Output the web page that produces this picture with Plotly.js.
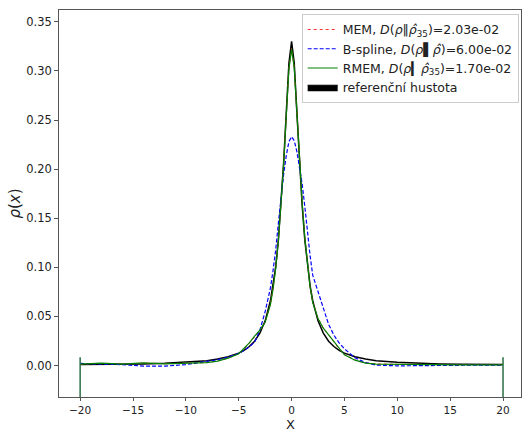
<!DOCTYPE html>
<html>
<head>
<meta charset="utf-8">
<script src="https://cdn.plot.ly/plotly-3.0.1.min.js"></script>
<style>html,body{margin:0;padding:0;background:#fff;}#chart{width:525px;height:432px;}</style>
</head>
<body>
<div id="chart"></div>
<script>
const X = [-20,-18,-16,-14,-12,-10,-8,-7,-6,-5,-4.5,-4,-3.5,-3,-2.5,-2,-1.75,-1.5,-1.25,-1,-0.75,-0.5,-0.25,0,0.25,0.5,0.75,1,1.25,1.5,1.75,2,2.5,3,3.5,4,4.5,5,6,7,8,10,12,14,16,18,20];

const REF = [0.0010,0.0011,0.0013,0.0017,0.0023,0.0033,0.0050,0.0066,0.0089,0.0127,0.0155,0.0194,0.0248,0.033,0.0455,0.066,0.0815,0.101,0.128,0.163,0.207,0.258,0.308,0.330,0.308,0.258,0.207,0.163,0.128,0.101,0.0815,0.066,0.0455,0.033,0.0248,0.0194,0.0155,0.0127,0.0089,0.0066,0.0050,0.0033,0.0023,0.0017,0.0013,0.0011,0.0010];

const MEM = [0.0015,0.0022,0.0016,0.0025,0.0019,0.0024,0.0031,0.0046,0.0076,0.0121,0.0168,0.0228,0.0295,0.0355,0.0445,0.0625,0.0785,0.0995,0.1275,0.1625,0.2055,0.2555,0.3025,0.3225,0.3035,0.2585,0.2105,0.1665,0.1305,0.1015,0.0805,0.0645,0.0482,0.0382,0.0308,0.0238,0.0168,0.0112,0.0057,0.0027,0.0017,0.0013,0.0011,0.0010,0.0009,0.0008,0.0008];

const BSPLINE = [0.0022,0.0018,0.0010,-0.0006,-0.0006,0.0010,0.0040,0.0060,0.0085,0.0125,0.0155,0.019,0.024,0.036,0.055,0.079,0.097,0.118,0.145,0.172,0.195,0.214,0.228,0.233,0.229,0.218,0.202,0.185,0.162,0.135,0.112,0.092,0.075,0.057,0.042,0.031,0.023,0.017,0.008,0.003,0.0005,-0.0003,0.0,0.0003,0.0005,0.0005,0.0003];

const RMEM = [0.0015,0.0025,0.0015,0.0028,0.0018,0.0025,0.0030,0.0045,0.0075,0.012,0.017,0.023,0.030,0.036,0.044,0.062,0.078,0.099,0.127,0.162,0.205,0.255,0.302,0.322,0.303,0.258,0.210,0.166,0.130,0.101,0.080,0.064,0.048,0.038,0.031,0.024,0.017,0.011,0.0055,0.0025,0.0015,0.0012,0.0010,0.0010,0.0008,0.0008,0.0008];

const EDGE_X = [-20,-20,null,20,20];
const EDGE_Y = [-0.04,0.0085,null,-0.04,0.0085];

const XTICKS = [-20,-15,-10,-5,0,5,10,15,20];
const YTICKS = [0,0.05,0.10,0.15,0.20,0.25,0.30,0.35];

const NAMES = [
  'MEM, <i>D</i>(<i>ρ</i>‖<i>ρ̂</i><sub>35</sub>)=2.03e-02',
  'B-spline, <i>D</i>(<i>ρ</i>▌<i>ρ̂</i>)=6.00e-02',
  'RMEM, <i>D</i>(<i>ρ</i>▎<i>ρ̂</i><sub>35</sub>)=1.70e-02',
  'referenční hustota'
];

const traces = [
  {x: X, y: REF, mode: 'lines', line: {color: 'black', width: 1.5}, showlegend: false, hoverinfo: 'skip'},
  {x: X, y: MEM, mode: 'lines', name: NAMES[0], line: {color: '#ff3030', width: 1, dash: 'dot'}},
  {x: X, y: BSPLINE, mode: 'lines', name: NAMES[1], line: {color: 'blue', width: 1.2, dash: '4px,2px'}},
  {x: X, y: RMEM, mode: 'lines', name: NAMES[2], line: {color: 'green', width: 1.2}},
  {x: EDGE_X, y: EDGE_Y, mode: 'lines', line: {color: '#2a6e45', width: 1.5}, showlegend: false, hoverinfo: 'skip'},
  {x: [null], y: [null], mode: 'lines', name: NAMES[3], fill: 'toself', fillcolor: 'black', line: {color: 'black', width: 1}}
];

const axisCommon = {
  showgrid: false, zeroline: false, showline: true, mirror: true,
  linecolor: '#555', linewidth: 1.3, ticks: 'outside', ticklen: 3.5, tickcolor: '#555',
  tickfont: {family: 'DejaVu Sans', size: 11.5, color: '#222'}
};

const layout = {
  width: 525, height: 432,
  margin: {l: 59, r: 4, t: 10, b: 35},
  paper_bgcolor: 'white', plot_bgcolor: 'white',
  xaxis: Object.assign({}, axisCommon, {
    range: [-22, 21.7], tickvals: XTICKS, ticklen: 3,
    tickfont: {family: 'DejaVu Sans', size: 10.5, color: '#222'}
  }),
  yaxis: Object.assign({}, axisCommon, {
    range: [-0.032, 0.362], tickvals: YTICKS, tickformat: '.2f',
    title: {text: '<i>ρ</i>(<i>x</i>)', font: {family: 'DejaVu Sans', size: 15, color: '#222'}, standoff: 2}
  }),
  annotations: [{
    text: 'X', xref: 'paper', yref: 'paper', x: 0.5, y: -0.0932, xanchor: 'center', yanchor: 'bottom',
    showarrow: false, borderpad: 0, font: {family: 'DejaVu Sans', size: 13, color: '#222'}
  }],
  legend: {
    x: 0.995, y: 0.99, xanchor: 'right', yanchor: 'top',
    bgcolor: 'white', bordercolor: '#ccc', borderwidth: 1,
    font: {family: 'DejaVu Sans', size: 12.5, color: '#222'},
    tracegroupgap: 0, itemwidth: 30
  },
  showlegend: true
};

Plotly.newPlot('chart', traces, layout, {displayModeBar: false, staticPlot: true});
</script>
</body>
</html>
